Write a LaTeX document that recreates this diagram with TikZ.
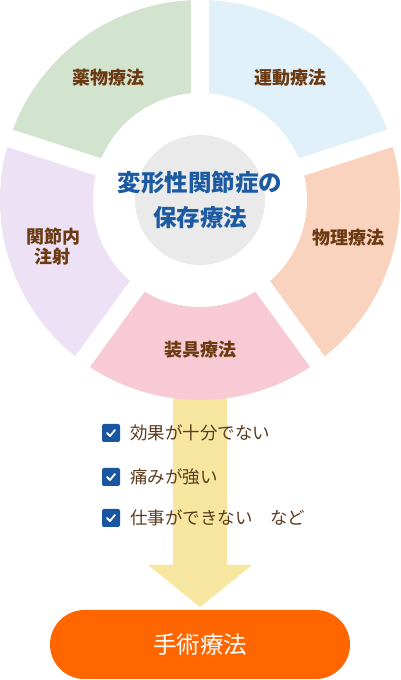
\documentclass[tikz,border=0pt]{standalone}
\usepackage{fontspec}
\newfontfamily\jp{Noto Sans CJK JP}
\usetikzlibrary{shapes.misc}
\definecolor{cgreen}{HTML}{D3E4CE}
\definecolor{cblue}{HTML}{E1F1FA}
\definecolor{cpeach}{HTML}{F9D3BD}
\definecolor{cpink}{HTML}{F7CAD5}
\definecolor{clav}{HTML}{EDE2F5}
\definecolor{cgrey}{HTML}{EAEAEA}
\definecolor{cbrown}{HTML}{6B3A12}
\definecolor{ctext}{HTML}{5B3A1E}
\definecolor{cnavy}{HTML}{1C5AA2}
\definecolor{cyellow}{HTML}{F7E6A0}
\definecolor{corange}{HTML}{FF6600}
\definecolor{cbox}{HTML}{1A56A0}
\tikzset{
  seglabel/.style={font=\jp\bfseries\fontsize{18}{20}\selectfont, text=cbrown, align=center, inner sep=0pt},
  centerlabel/.style={font=\jp\bfseries\fontsize{23.5}{28}\selectfont, text=cnavy, inner sep=0pt},
  checkbox/.style={rectangle, rounded corners=2pt, fill=cbox, minimum size=18pt, inner sep=0pt},
  checkmark/.style={draw=white, line width=1.8pt, line cap=round, line join=round},
  itemlabel/.style={font=\jp\fontsize{17.5}{20}\selectfont, text=ctext, anchor=west, inner sep=0pt},
  gapline/.style={draw=white, line width=18pt},
}
\begin{document}
\begin{tikzpicture}[x=1pt,y=1pt]
\useasboundingbox (0,0) rectangle (400,680);
\coordinate (C) at (200,480);
% yellow arrow
\fill[cyellow] (173,300) -- (227,300) -- (227,115) -- (252,115) -- (200,73) -- (148,115) -- (173,115) -- cycle;
% sectors
\foreach \a/\b/\c in {90/162/cgreen, 18/90/cblue, -54/18/cpeach, -126/-54/cpink, 162/234/clav}{
  \fill[\c] (C) -- ++(\a:200) arc[start angle=\a, end angle=\b, radius=200] -- cycle;
}
\foreach \t in {90,162,234,306,18}{
  \draw[gapline] (C) -- ++(\t:210);
}
\fill[white] (C) circle[radius=107];
\node[circle, fill=cgrey, minimum size=130pt, inner sep=0pt] (hub) at (C) {};
\node[centerlabel] (t1) at (200,497) {変形性関節症の};
\node[centerlabel] (t2) at (200,462) {保存療法};
\node[seglabel] (s1) at (108,602) {薬物療法};
\node[seglabel] (s2) at (290,602) {運動療法};
\node[seglabel] (s3) at (348,442) {物理療法};
\node[seglabel] (s4) at (200,330) {装具療法};
\node[seglabel] (s5) at (53,433) {関節内\\注射};
% checklist
\foreach \y/\txt [count=\i] in {247/効果が十分でない, 203/痛みが強い, 162/仕事ができない　など}{
  \node[checkbox] (cb\i) at (111,\y) {};
  \draw[checkmark] ([xshift=-4pt,yshift=0pt]cb\i.center) -- ([xshift=-1pt,yshift=-3pt]cb\i.center) -- ([xshift=4pt,yshift=3pt]cb\i.center);
  \node[itemlabel] (it\i) at (130,\y) {\txt};
}
% surgery pill
\node[rounded rectangle, fill=corange, minimum width=300pt, minimum height=69pt, inner sep=0pt,
      font=\jp\fontsize{23.5}{28}\selectfont, text=white] (surg) at (200,35.5) {手術療法};
\end{tikzpicture}
\end{document}
